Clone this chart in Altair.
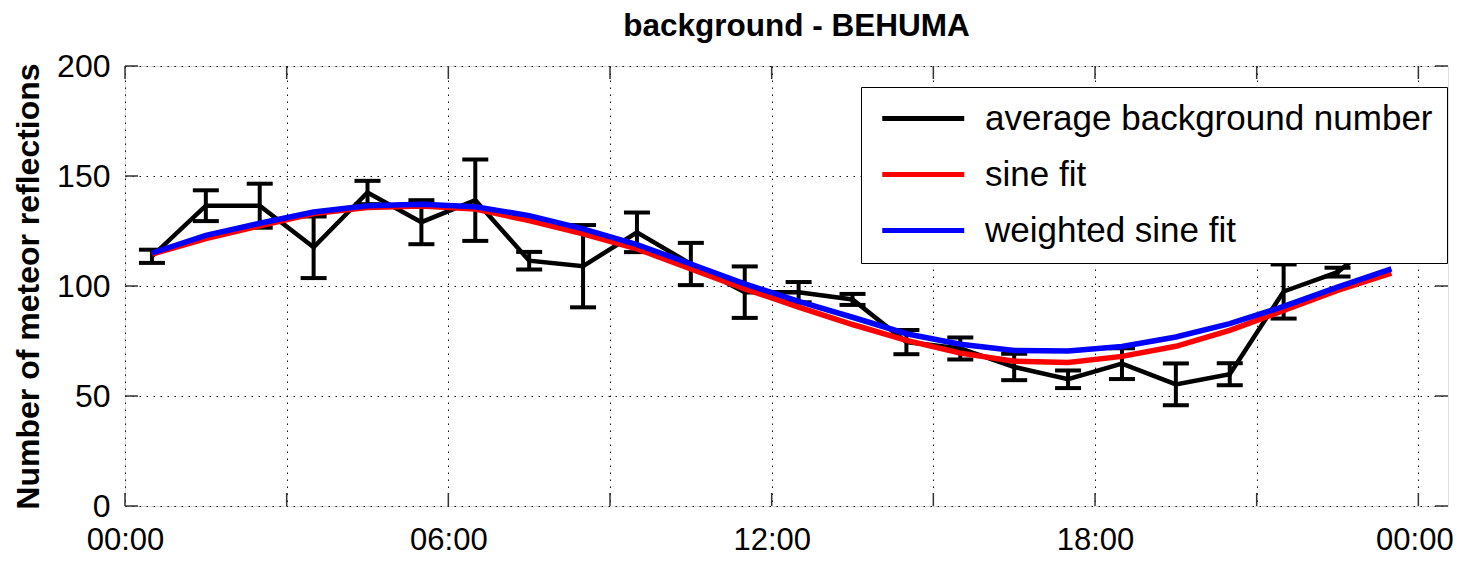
import altair as alt
import pandas as pd

hours = [0.5, 1.5, 2.5, 3.5, 4.5, 5.5, 6.5, 7.5, 8.5, 9.5, 10.5, 11.5,
         12.5, 13.5, 14.5, 15.5, 16.5, 17.5, 18.5, 19.5, 20.5, 21.5, 22.5, 23.5]
avg_bg = [113.5, 136.5, 136.5, 117.6, 142.5, 129.0, 139.0, 111.5, 109.0, 124.4, 110.0, 97.2,
          97.2, 93.9, 74.5, 71.6, 63.2, 57.6, 64.7, 55.3, 59.9, 97.5, 106.3, 126.0]
err = [3.0, 7.0, 10.0, 14.0, 5.3, 10.0, 18.5, 4.0, 18.7, 9.0, 9.6, 11.7,
       4.6, 2.5, 5.5, 5.0, 6.0, 4.0, 7.0, 9.5, 5.0, 12.3, 2.0, 8.0]
sine_fit = [114.5, 121.5, 127.4, 132.9, 135.7, 136.4, 135.0, 129.7, 123.7, 116.9, 107.8, 98.7,
            90.4, 82.5, 75.3, 69.5, 65.8, 65.2, 68.0, 72.6, 79.8, 88.9, 98.0, 105.8]
wsine_fit = [115.0, 123.0, 128.5, 133.6, 136.5, 137.2, 136.0, 132.0, 126.0, 118.8, 110.0, 101.0,
             93.0, 85.8, 78.3, 73.5, 70.7, 70.5, 72.5, 76.8, 82.9, 90.7, 99.5, 107.8]

x_ticks = [0, 3, 6, 9, 12, 15, 18, 21, 24]
y_ticks = [0, 50, 100, 150, 200]
series_names = ["average background number", "sine fit", "weighted sine fit"]
series_colors = ["#000000", "#ff0000", "#0000ff"]

W, H = 1323, 440
FONT = "Liberation Sans"

df_avg = pd.DataFrame({
    "hour": hours,
    "value": avg_bg,
    "lo": [a - e for a, e in zip(avg_bg, err)],
    "hi": [a + e for a, e in zip(avg_bg, err)],
    "series": series_names[0],
})
df_fit = pd.concat([
    pd.DataFrame({"hour": hours, "value": sine_fit, "series": series_names[1]}),
    pd.DataFrame({"hour": hours, "value": wsine_fit, "series": series_names[2]}),
])
df_xt = pd.DataFrame({"hour": x_ticks})
df_yt = pd.DataFrame({"value": y_ticks})

x_scale = alt.Scale(domain=[0, 24.55], nice=False, zero=False)
y_scale = alt.Scale(domain=[0, 200], nice=False)
x_axis = alt.Axis(
    values=x_ticks, title=None, ticks=False, domain=False,
    labelExpr="datum.value % 6 == 0 ? ((datum.value % 24) < 10 ? '0' : '') + (datum.value % 24) + ':00' : ''",
    labelFontSize=31, labelFont=FONT, labelColor="black", labelPadding=19,
    labelOffset={"condition": {"test": "datum.value >= 24", "value": -4}, "value": 0},
    grid=True, gridDash=[1.5, 5.5], gridColor="#111", gridWidth=1, gridOpacity=1,
    labelFlush=False,
)
y_axis = alt.Axis(
    values=y_ticks, title="Number of meteor reflections", ticks=False, domain=False,
    labelFontSize=32, labelFont=FONT, labelColor="black", labelPadding=15,
    titleFontSize=32, titleFont=FONT, titleFontWeight="bold", titleColor="black",
    titlePadding=11,
    grid=True, gridDash=[1.5, 5.5], gridColor="#111", gridWidth=1, gridOpacity=1,
)

color = alt.Color(
    "series:N",
    scale=alt.Scale(domain=series_names, range=series_colors),
    sort=series_names,
    legend=alt.Legend(
        title=None, orient="none", legendX=736, legendY=21,
        fillColor="white", strokeColor="black", padding=14,
        symbolType="M-1,0H7", symbolSize=420, symbolStrokeWidth=5,
        labelFontSize=35, labelFont=FONT, labelColor="black", labelLimit=0,
        rowPadding=20, labelOffset=75,
    ),
)

X = alt.X("hour:Q", scale=x_scale, axis=x_axis)

bars = alt.Chart(df_avg).mark_rule(color="black", strokeWidth=4).encode(
    x=X, y=alt.Y("lo:Q", scale=y_scale, axis=y_axis), y2="hi:Q")
caps_lo = alt.Chart(df_avg).mark_tick(color="black", opacity=1, orient="horizontal", size=26, thickness=4).encode(
    x=X, y=alt.Y("lo:Q", scale=y_scale, axis=y_axis))
caps_hi = alt.Chart(df_avg).mark_tick(color="black", opacity=1, orient="horizontal", size=26, thickness=4).encode(
    x=X, y=alt.Y("hi:Q", scale=y_scale, axis=y_axis))
avg_line = alt.Chart(df_avg).mark_line(strokeWidth=4.5).encode(
    x=X, y=alt.Y("value:Q", scale=y_scale, axis=y_axis), color=color)
fit_lines = alt.Chart(df_fit).mark_line(strokeWidth=5.5).encode(
    x=X, y=alt.Y("value:Q", scale=y_scale, axis=y_axis), color=color,
    order=alt.Order("series:N"))

tick_style = dict(color="#333", strokeWidth=1.5)
xt_bottom = alt.Chart(df_xt).mark_rule(**tick_style).encode(x=X, y=alt.value(H), y2=alt.value(H - 13))
xt_top = alt.Chart(df_xt).mark_rule(**tick_style).encode(x=X, y=alt.value(0), y2=alt.value(13))
yt_left = alt.Chart(df_yt).mark_rule(**tick_style).encode(
    y=alt.Y("value:Q", scale=y_scale, axis=y_axis), x=alt.value(0), x2=alt.value(13))
yt_right = alt.Chart(df_yt).mark_rule(**tick_style).encode(
    y=alt.Y("value:Q", scale=y_scale, axis=y_axis), x=alt.value(W), x2=alt.value(W - 13))

chart = alt.layer(
    bars, caps_lo, caps_hi, avg_line, fit_lines,
    xt_bottom, xt_top, yt_left, yt_right,
).properties(
    width=W, height=H,
    autosize=alt.AutoSizeParams(type="none"),
    padding={"left": 117, "top": 58, "right": 5, "bottom": 49},
    title=alt.Title("background - BEHUMA", fontSize=31.5, font=FONT, fontWeight="bold",
                    color="black", anchor="middle", dx=10, offset=8),
).configure_view(stroke="#333", strokeWidth=1.5).configure(background="white")

chart.save("out.html", embed_options={"renderer": "svg", "actions": False})
